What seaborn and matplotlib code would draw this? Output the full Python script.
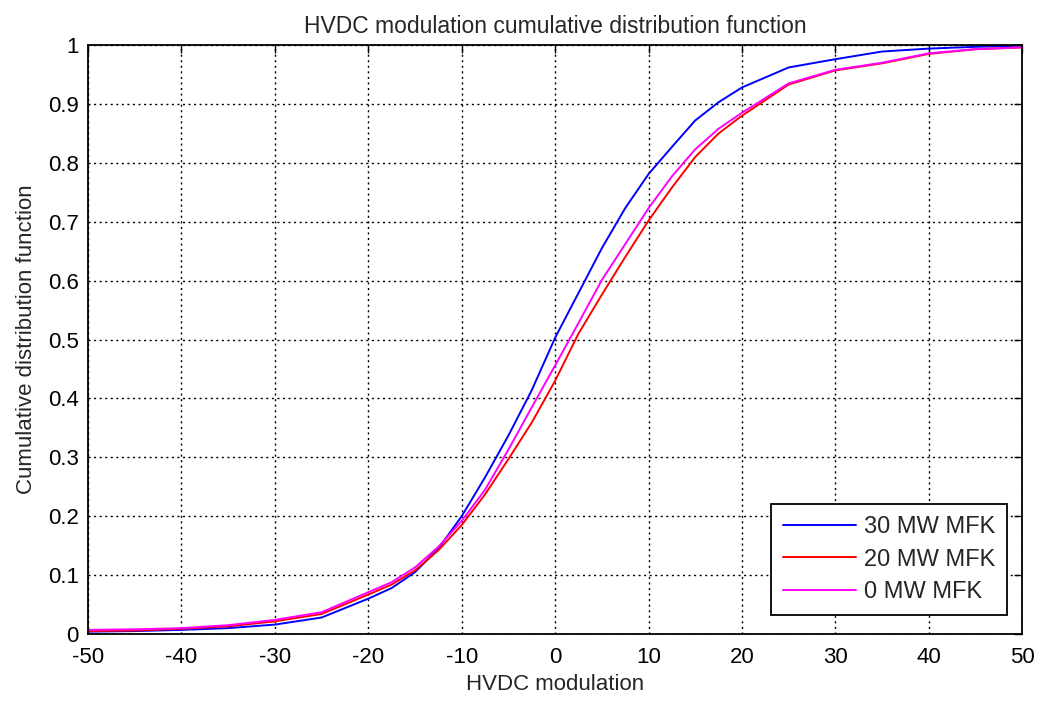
import numpy as np
import pandas as pd
import matplotlib
matplotlib.use("Agg")
import matplotlib.pyplot as plt
import seaborn as sns

# CDF values at these x positions
x_vals = [-50, -45, -40, -35, -30, -25, -20, -17.5, -15, -12.5, -10, -7.5, -5, -2.5,
          0, 2.5, 5, 7.5, 10, 12.5, 15, 17.5, 20, 25, 30, 35, 40, 45, 50]

cdf_30mw = [0.004, 0.005, 0.007, 0.010, 0.016, 0.028, 0.060, 0.078, 0.105, 0.145, 0.200,
            0.266, 0.337, 0.414, 0.503, 0.579, 0.655, 0.723, 0.781, 0.827, 0.872, 0.903,
            0.928, 0.962, 0.976, 0.989, 0.994, 0.997, 0.999]
cdf_20mw = [0.005, 0.006, 0.009, 0.013, 0.0215, 0.034, 0.067, 0.084, 0.108, 0.142, 0.185,
            0.237, 0.297, 0.359, 0.430, 0.510, 0.576, 0.640, 0.702, 0.758, 0.810, 0.850,
            0.880, 0.933, 0.957, 0.969, 0.985, 0.993, 0.996]
cdf_0mw = [0.007, 0.008, 0.010, 0.015, 0.024, 0.037, 0.071, 0.088, 0.113, 0.148, 0.192,
           0.245, 0.313, 0.385, 0.456, 0.528, 0.601, 0.662, 0.723, 0.777, 0.823, 0.858,
           0.885, 0.935, 0.958, 0.970, 0.986, 0.993, 0.996]

labels = ["30 MW MFK", "20 MW MFK", "0 MW MFK"]
colors = ["#0000ff", "#ff0000", "#ff00ff"]

df = pd.concat([
    pd.DataFrame({"x": x_vals, "F": cdf_30mw, "case": labels[0]}),
    pd.DataFrame({"x": x_vals, "F": cdf_20mw, "case": labels[1]}),
    pd.DataFrame({"x": x_vals, "F": cdf_0mw, "case": labels[2]}),
])

sns.set_style("white")
plt.rcParams["font.family"] = ["Liberation Sans", "DejaVu Sans"]
plt.rcParams["axes.unicode_minus"] = False

fig = plt.figure(figsize=(10.41, 7.04), dpi=100)
ax = fig.add_axes([0.0845, 0.0994, 0.8975, 0.8366])

sns.lineplot(data=df, x="x", y="F", hue="case", hue_order=labels,
             palette=colors, linewidth=1.4, ax=ax, legend=False, sort=False)

ax.set_xlim(-50, 50)
ax.set_ylim(0, 1)
ax.set_xticks(np.arange(-50, 51, 10))
ax.set_yticks(np.arange(0, 1.01, 0.1))
ax.set_yticklabels(["0", "0.1", "0.2", "0.3", "0.4", "0.5", "0.6", "0.7", "0.8", "0.9", "1"])
ax.grid(True, color="black", linestyle=(0, (1.5, 2.5)), linewidth=1.0)
ax.tick_params(direction="in", length=6, width=1, top=True, right=True,
               labelsize=16, colors="black")
ax.tick_params(axis="y", pad=6.5)
ax.tick_params(axis="x", pad=9)
for s in ax.spines.values():
    s.set_visible(True)
    s.set_color("black")
    s.set_linewidth(1.3)

ax.set_xlabel("HVDC modulation", fontsize=16, labelpad=5)
ax.set_ylabel("Cumulative distribution function", fontsize=16, labelpad=8)
ax.set_title("HVDC modulation cumulative distribution function", fontsize=16.5, pad=9)

handles = [plt.Line2D([], [], color=c, lw=1.4) for c in colors]
leg = ax.legend(handles, labels, loc="lower right", bbox_to_anchor=(0.984, 0.032),
                fontsize=17, frameon=True, fancybox=False, framealpha=1,
                edgecolor="black", handlelength=3.1, handletextpad=0.35,
                borderaxespad=0, labelspacing=0.45, borderpad=0.5)
leg.get_frame().set_linewidth(1.3)

fig.savefig("out.png", dpi=100)
